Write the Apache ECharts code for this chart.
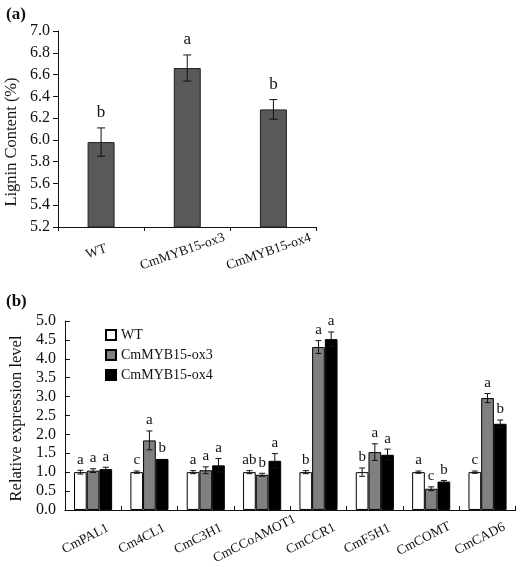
<!DOCTYPE html>
<html><head><meta charset="utf-8">
<script src="https://cdn.jsdelivr.net/npm/echarts@6/dist/echarts.min.js"></script>
<style>html,body{margin:0;padding:0;background:#fff}#c{width:520px;height:567px}</style>
</head><body><div id="c"></div>
<script>
// ---- Panel (a) data ----
const ligninCategories = ['WT', 'CmMYB15-ox3', 'CmMYB15-ox4'];
const ligninMean = [5.98, 6.66, 6.28];
const ligninErr = [0.13, 0.12, 0.09];
const ligninLetters = ['b', 'a', 'b'];

// ---- Panel (b) data ----
const genes = ['CmPAL1', 'Cm4CL1', 'CmC3H1', 'CmCCoAMOT1', 'CmCCR1', 'CmF5H1', 'CmCOMT', 'CmCAD6'];
const seriesNames = ['WT', 'CmMYB15-ox3', 'CmMYB15-ox4'];
const wtExpr = [1.00, 1.00, 1.00, 1.00, 1.00, 1.00, 1.00, 1.00];
const wtErr = [0.05, 0.03, 0.04, 0.04, 0.04, 0.11, 0.03, 0.03];
const wtLetters = ['a', 'c', 'a', 'ab', 'b', 'b', 'a', 'c'];
const ox3Expr = [1.04, 1.84, 1.05, 0.93, 4.31, 1.53, 0.56, 2.96];
const ox3Err = [0.05, 0.25, 0.09, 0.04, 0.17, 0.22, 0.05, 0.12];
const ox3Letters = ['a', 'a', 'a', 'b', 'a', 'a', 'c', 'a'];
const ox4Expr = [1.08, 1.35, 1.18, 1.30, 4.52, 1.46, 0.75, 2.28];
const ox4Err = [0.05, 0.00, 0.18, 0.19, 0.19, 0.15, 0.03, 0.10];
const ox4Letters = ['a', 'b', 'a', 'a', 'a', 'a', 'b', 'b'];

const FONT = '"Liberation Serif", "Times New Roman", serif';
const INK = '#111';
const BW = 12.7;

function errRender(means, errs, letters, offset, capHalf, gap, fs) {
  return function (params, api) {
    const i = params.dataIndex;
    const m = means[i], e = errs[i];
    const top = api.coord([i, m + e]);
    const bot = api.coord([i, m - e]);
    const x = top[0] + offset;
    const st = { stroke: INK, lineWidth: 1 };
    const ch = [];
    if (e > 0) {
      ch.push({ type: 'line', shape: { x1: x, y1: top[1], x2: x, y2: bot[1] }, style: st });
      ch.push({ type: 'line', shape: { x1: x - capHalf, y1: top[1], x2: x + capHalf, y2: top[1] }, style: st });
      ch.push({ type: 'line', shape: { x1: x - capHalf, y1: bot[1], x2: x + capHalf, y2: bot[1] }, style: st });
    }
    ch.push({
      type: 'text',
      style: {
        x: x, y: top[1] - gap, text: letters[i],
        align: 'center', verticalAlign: 'bottom',
        textAlign: 'center', textVerticalAlign: 'bottom',
        fontSize: fs, fontFamily: FONT, fill: INK
      }
    });
    return { type: 'group', children: ch };
  };
}

const axisLine = { show: true, lineStyle: { color: INK, width: 1 } };

const barColors = ['#ffffff', '#808080', '#000000'];
const exprSets = [wtExpr, ox3Expr, ox4Expr];
const errSets = [wtErr, ox3Err, ox4Err];
const letterSets = [wtLetters, ox3Letters, ox4Letters];

const series = [
  {
    name: 'Lignin', type: 'bar', xAxisIndex: 0, yAxisIndex: 0,
    data: ligninMean, barWidth: 27,
    itemStyle: { color: '#595959', borderColor: '#222', borderWidth: 1 }
  },
  {
    name: 'ligninErr', type: 'custom', xAxisIndex: 0, yAxisIndex: 0, z: 5,
    data: ligninMean.map((m, i) => [i, m]),
    encode: { x: 0, y: 1 },
    renderItem: errRender(ligninMean, ligninErr, ligninLetters, 0, 4, 7, 17)
  }
];
seriesNames.forEach((n, k) => {
  series.push({
    name: n, type: 'bar', xAxisIndex: 1, yAxisIndex: 1,
    data: exprSets[k], barWidth: BW, barGap: '0%',
    itemStyle: { color: barColors[k], borderColor: '#000', borderWidth: 1 }
  });
});
seriesNames.forEach((n, k) => {
  series.push({
    name: n + '_err', type: 'custom', xAxisIndex: 1, yAxisIndex: 1, z: 5,
    data: exprSets[k].map((m, i) => [i, m]),
    encode: { x: 0, y: 1 },
    renderItem: errRender(exprSets[k], errSets[k], letterSets[k], (k - 1) * BW, 3, 3, 15)
  });
});

const option = {
  backgroundColor: '#fff',
  animation: false,
  textStyle: { fontFamily: FONT, color: INK },
  title: [
    { text: '(a)', left: 1, top: 1, textStyle: { fontFamily: FONT, fontWeight: 'bold', fontSize: 17, color: INK } },
    { text: '(b)', left: 1, top: 288, textStyle: { fontFamily: FONT, fontWeight: 'bold', fontSize: 17, color: INK } }
  ],
  legend: {
    data: seriesNames, orient: 'vertical', left: 100, top: 323,
    itemWidth: 10, itemHeight: 10, itemGap: 6,
    icon: 'rect',
    textStyle: { fontFamily: FONT, fontSize: 14, color: INK }
  },
  grid: [
    { left: 58, top: 31, width: 258.5, height: 196 },
    { left: 58, top: 321, width: 457.7, height: 190 }
  ],
  xAxis: [
    {
      type: 'category', gridIndex: 0, data: ligninCategories,
      axisLine: axisLine,
      axisTick: { show: true, inside: false, length: 4, lineStyle: { color: INK } },
      axisLabel: { rotate: 19, align: 'center', verticalAlign: 'middle', padding: [0, 10, 0, 0], margin: 23, fontSize: 13.5, fontFamily: FONT, color: INK, interval: 0 }
    },
    {
      type: 'category', gridIndex: 1, data: genes,
      axisLine: axisLine,
      axisTick: { show: true, inside: true, length: 4, lineStyle: { color: INK } },
      axisLabel: { rotate: 27, align: 'center', verticalAlign: 'middle', padding: [0, 17, 0, 0], margin: 25, fontSize: 13.5, fontFamily: FONT, color: INK, interval: 0 }
    }
  ],
  yAxis: [
    {
      type: 'value', gridIndex: 0, min: 5.2, max: 7.0, interval: 0.2,
      name: 'Lignin Content (%)', nameLocation: 'middle', nameGap: 38, nameRotate: 90,
      nameTextStyle: { fontFamily: FONT, fontSize: 16.5, color: INK, padding: [0, 26, 0, 0] },
      axisLine: axisLine,
      axisTick: { show: true, inside: false, length: 5, lineStyle: { color: INK } },
      splitLine: { show: false },
      axisLabel: { margin: 8, fontSize: 16, fontFamily: FONT, color: INK, formatter: v => v.toFixed(1) }
    },
    {
      type: 'value', gridIndex: 1, min: 0, max: 5, interval: 0.5,
      name: 'Relative expression level', nameLocation: 'middle', nameGap: 39, nameRotate: 90,
      nameTextStyle: { fontFamily: FONT, fontSize: 16.5, color: INK, padding: [0, 6, 0, 0] },
      axisLine: axisLine,
      axisTick: { show: true, inside: true, length: 5, lineStyle: { color: INK } },
      splitLine: { show: false },
      axisLabel: { margin: 9, fontSize: 16, fontFamily: FONT, color: INK, formatter: v => v.toFixed(1) }
    }
  ],
  series: series
};

const chart = echarts.init(document.getElementById('c'));
chart.setOption(option);
</script>
</body></html>
